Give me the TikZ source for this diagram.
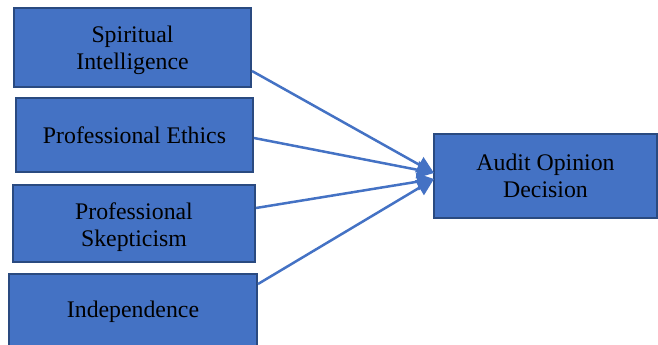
\documentclass[tikz,border=0pt]{standalone}
\usepackage{fontspec}
\setmainfont{Liberation Serif}
\usetikzlibrary{arrows.meta}
\definecolor{boxfill}{HTML}{4472C4}
\definecolor{boxline}{HTML}{2A4A80}
\definecolor{arrowc}{HTML}{4472C4}
\begin{document}
\begin{tikzpicture}[x=1pt,y=-1pt,
  box/.style={draw=boxline,line width=2pt,fill=boxfill,text=black,
    font=\fontsize{23.8}{27}\selectfont,align=center,inner sep=0pt},
  conn/.style={draw=arrowc,line width=2.5pt,-{Triangle[length=17pt,width=17pt]}}]
\useasboundingbox (0,0) rectangle (658,345);
\node[box,minimum width=237pt,minimum height=79pt,text height=50pt] (si) at (132.5,47.5) {Spiritual\\Intelligence};
\node[box,minimum width=237pt,minimum height=74pt] (pe) at (134.5,135) {Professional Ethics};
\node[box,minimum width=242pt,minimum height=77pt,text height=52pt] (ps) at (134,223.5) {Professional\\Skepticism};
\node[box,minimum width=248pt,minimum height=76pt] (in) at (133,312) {Independence};
\node[box,minimum width=223pt,minimum height=84pt] (ao) at (545.5,176) {Audit Opinion\\Decision};
\coordinate (t1) at (434,173);
\coordinate (t2) at (434,179);
\draw[conn] ([yshift=-23.5pt]si.east) -- (t1);
\draw[conn] ([yshift=-3pt]pe.east) -- (t1);
\draw[conn] ([yshift=15.5pt]ps.east) -- (t2);
\draw[conn] ([yshift=28pt]in.east) -- (t2);
\end{tikzpicture}
\end{document}
